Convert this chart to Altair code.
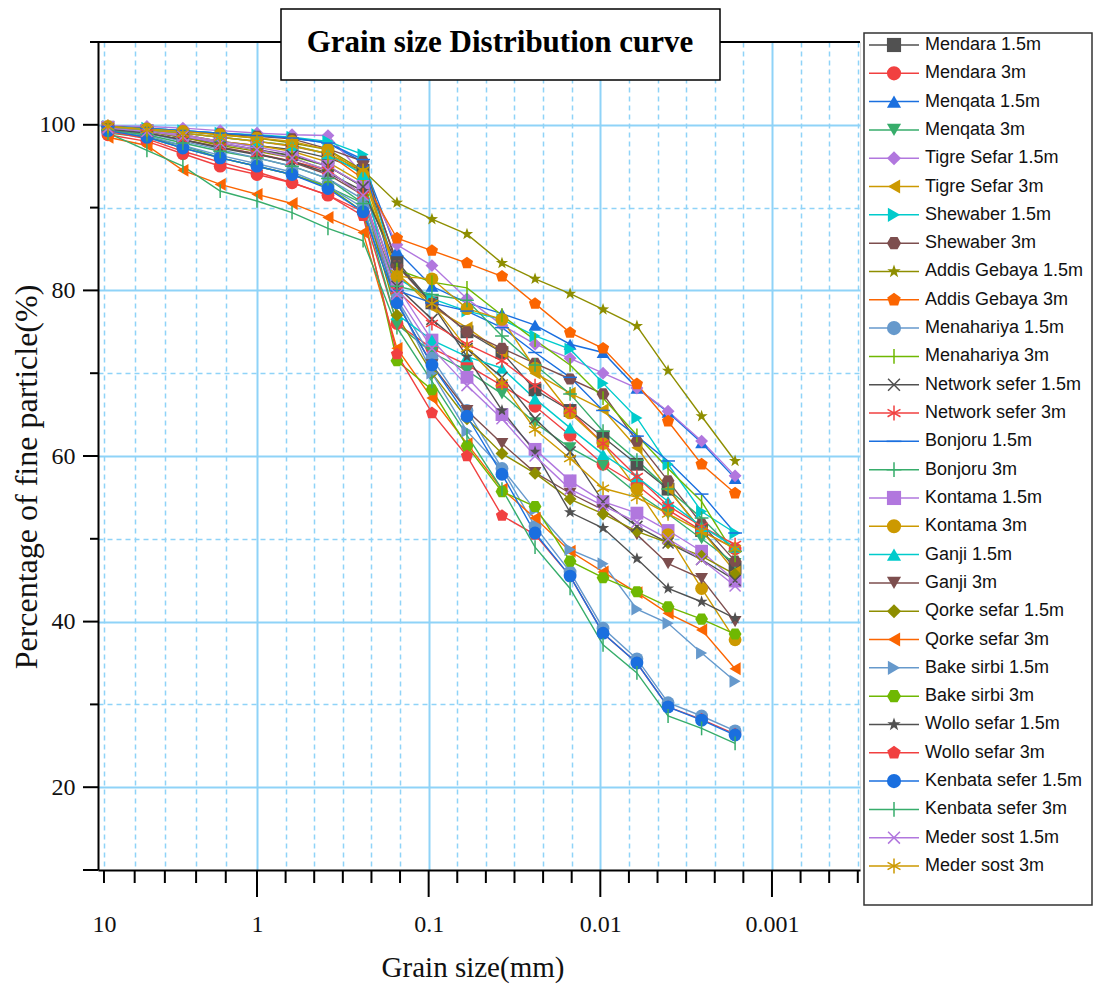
import altair as alt
import pandas as pd

# ---------------- data ----------------
sizes_mm = [9.42, 5.24, 3.05, 1.74, 1.0, 0.625, 0.386, 0.241, 0.153, 0.0957,
            0.0598, 0.0374, 0.024, 0.015, 0.00964, 0.00612, 0.00403, 0.00257, 0.00164]

series_names = [
    "Mendara 1.5m", "Mendara 3m", "Menqata 1.5m", "Menqata 3m",
    "Tigre Sefar 1.5m", "Tigre Sefar 3m", "Shewaber 1.5m", "Shewaber 3m",
    "Addis Gebaya 1.5m", "Addis Gebaya 3m", "Menahariya  1.5m", "Menahariya 3m",
    "Network sefer 1.5m", "Network sefer 3m", "Bonjoru 1.5m", "Bonjoru  3m",
    "Kontama 1.5m", "Kontama 3m", "Ganji 1.5m", "Ganji 3m",
    "Qorke sefar  1.5m", "Qorke sefar 3m", "Bake sirbi 1.5m", "Bake sirbi 3m",
    "Wollo sefar 1.5m", "Wollo sefar 3m", "Kenbata sefer 1.5m", "Kenbata sefer 3m",
    "Meder sost 1.5m", "Meder sost 3m",
]

mendara_15 = [99.7, 99.3, 98.8, 98.0, 97.5, 97.0, 96.0, 94.5, 83.5, 78.5, 75.0, 72.5, 68.0, 65.5, 62.3, 59.0, 56.0, 51.0, 46.5]
mendara_3 = [98.8, 98.0, 96.5, 95.0, 94.0, 93.0, 91.5, 89.5, 76.0, 73.0, 71.0, 68.5, 66.0, 62.5, 59.0, 56.5, 53.5, 51.0, 48.8]
menqata_15 = [99.8, 99.6, 99.3, 99.0, 98.7, 98.4, 97.8, 95.5, 84.8, 80.5, 78.5, 77.2, 75.8, 73.5, 72.5, 68.2, 65.3, 61.6, 57.3]
menqata_3 = [99.0, 98.5, 97.5, 96.0, 95.0, 94.0, 92.5, 90.5, 75.9, 72.5, 70.3, 67.5, 64.0, 61.0, 58.8, 55.5, 53.0, 50.0, 47.0]
tigre_15 = [99.9, 99.8, 99.6, 99.3, 99.0, 98.8, 98.7, 94.0, 85.5, 83.0, 79.0, 75.8, 73.5, 71.8, 70.0, 68.2, 65.4, 61.8, 57.6]
tigre_3 = [99.7, 99.3, 98.8, 98.0, 97.5, 96.8, 95.5, 93.0, 82.0, 78.0, 75.5, 72.5, 70.0, 67.6, 65.6, 61.0, 56.0, 51.0, 46.0]
shewaber_15 = [99.8, 99.6, 99.3, 99.0, 98.8, 98.5, 98.0, 96.4, 81.5, 79.0, 77.5, 76.5, 74.5, 72.9, 68.8, 64.6, 59.0, 53.3, 50.7]
shewaber_3 = [99.8, 99.5, 99.2, 98.9, 98.6, 98.3, 97.1, 95.6, 83.0, 78.4, 75.0, 73.0, 71.2, 69.3, 67.5, 61.8, 57.0, 51.8, 47.3]
addis_15 = [99.8, 99.5, 99.2, 98.8, 98.4, 97.8, 97.0, 94.5, 90.6, 88.6, 86.8, 83.3, 81.4, 79.6, 77.7, 75.7, 70.3, 64.8, 59.4]
addis_3 = [99.7, 99.4, 99.0, 98.5, 98.0, 97.4, 96.5, 93.5, 86.3, 84.8, 83.3, 81.7, 78.4, 74.9, 73.0, 68.7, 64.2, 59.0, 55.5]
menahariya_15 = [99.4, 98.7, 97.5, 96.3, 95.3, 94.3, 92.6, 90.0, 79.0, 71.8, 65.5, 58.5, 51.5, 46.0, 39.2, 35.5, 30.2, 28.6, 26.8]
menahariya_3 = [99.6, 99.2, 98.5, 97.7, 97.0, 96.2, 95.0, 92.5, 82.5, 81.0, 80.3, 77.0, 74.0, 71.0, 67.0, 62.5, 58.5, 54.5, 48.0]
network_15 = [99.6, 99.2, 98.5, 97.8, 97.0, 96.3, 95.0, 92.5, 80.5, 76.5, 73.0, 69.5, 64.5, 60.5, 54.5, 51.5, 49.5, 47.5, 45.0]
network_3 = [99.5, 99.0, 98.2, 97.3, 96.5, 95.6, 94.5, 91.5, 80.0, 76.0, 73.5, 71.5, 68.5, 65.5, 61.5, 57.5, 54.0, 51.5, 49.3]
bonjoru_15 = [99.8, 99.6, 99.3, 99.0, 98.7, 98.4, 97.8, 95.8, 80.0, 78.5, 77.5, 75.5, 72.5, 69.5, 65.5, 62.4, 59.4, 55.4, 50.7]
bonjoru_3 = [99.4, 98.8, 97.8, 96.8, 96.0, 95.0, 93.5, 90.5, 80.5, 79.5, 78.8, 74.5, 71.0, 67.5, 63.0, 59.5, 56.0, 52.5, 48.5]
kontama_15 = [99.7, 99.3, 98.8, 98.0, 97.3, 96.5, 95.0, 92.6, 80.5, 74.0, 69.5, 65.0, 60.8, 57.0, 54.5, 53.1, 51.0, 48.5, 44.9]
kontama_3 = [99.8, 99.5, 99.2, 98.8, 98.4, 98.0, 97.0, 94.0, 81.7, 81.4, 77.8, 76.5, 70.6, 65.2, 61.5, 56.0, 50.5, 44.0, 37.8]
ganji_15 = [99.7, 99.4, 99.0, 98.5, 98.0, 97.5, 96.5, 94.0, 77.1, 74.0, 72.0, 70.6, 66.9, 63.4, 60.2, 57.5, 54.5, 51.5, 49.0]
ganji_3 = [99.5, 99.0, 98.2, 97.3, 96.5, 95.5, 94.0, 91.5, 78.5, 71.0, 65.5, 61.5, 58.0, 55.5, 53.5, 50.5, 47.0, 45.2, 40.0]
qorke_15 = [99.6, 99.2, 98.5, 97.5, 96.8, 96.0, 94.5, 91.5, 77.0, 70.0, 64.5, 60.3, 57.9, 54.8, 53.0, 50.9, 49.5, 47.9, 45.7]
qorke_3 = [98.5, 97.5, 94.5, 92.8, 91.6, 90.5, 88.8, 87.0, 73.0, 67.0, 61.5, 56.0, 52.5, 48.5, 46.0, 43.5, 41.0, 39.0, 34.3]
bake_15 = [99.5, 99.0, 98.0, 97.0, 96.0, 95.0, 93.5, 91.0, 79.0, 70.0, 63.0, 58.5, 53.5, 48.7, 47.0, 41.5, 39.8, 36.2, 32.8]
bake_3 = [99.3, 98.5, 97.2, 96.0, 95.0, 94.0, 92.5, 89.5, 71.5, 68.0, 61.2, 55.7, 53.9, 47.3, 45.3, 43.6, 41.8, 40.3, 38.5]
wollo_15 = [99.5, 99.0, 98.2, 97.2, 96.4, 95.6, 94.2, 92.0, 83.2, 78.4, 72.0, 65.5, 60.5, 53.2, 51.3, 47.6, 44.0, 42.4, 40.4]
wollo_3 = [99.2, 98.3, 96.8, 95.5, 94.3, 93.0, 91.5, 89.0, 72.3, 65.2, 60.0, 52.8, 50.5, 45.5, 38.6, 35.0, 29.7, 28.2, 26.4]
kenbata_15 = [99.3, 98.5, 97.2, 96.0, 95.0, 94.0, 92.3, 89.5, 78.5, 71.0, 64.8, 57.8, 50.7, 45.5, 38.6, 35.0, 29.7, 28.1, 26.3]
kenbata_3 = [99.0, 96.9, 95.0, 92.0, 90.8, 89.4, 87.5, 86.0, 75.5, 69.0, 62.5, 56.0, 49.0, 44.0, 37.2, 33.8, 28.6, 27.1, 25.3]
meder_15 = [99.6, 99.2, 98.6, 97.8, 97.0, 96.0, 94.5, 91.5, 79.5, 73.0, 68.5, 64.5, 60.0, 56.0, 54.0, 52.0, 50.0, 47.5, 44.3]
meder_3 = [99.8, 99.4, 99.0, 98.5, 98.0, 97.5, 96.5, 94.5, 82.0, 78.4, 73.0, 68.8, 63.2, 59.7, 56.1, 55.0, 53.0, 50.9, 48.8]

series_values = [
    mendara_15, mendara_3, menqata_15, menqata_3, tigre_15, tigre_3,
    shewaber_15, shewaber_3, addis_15, addis_3, menahariya_15, menahariya_3,
    network_15, network_3, bonjoru_15, bonjoru_3, kontama_15, kontama_3,
    ganji_15, ganji_3, qorke_15, qorke_3, bake_15, bake_3,
    wollo_15, wollo_3, kenbata_15, kenbata_3, meder_15, meder_3,
]

# axis tick values
x_labelled = [10, 1, 0.1, 0.01, 0.001]
x_major_ticks = [1, 0.1, 0.01, 0.001]
x_minor_ticks = [10, 6.3, 4.0, 2.5, 1.6,
                 0.6813, 0.4642, 0.3162, 0.2154, 0.1468,
                 0.06813, 0.04642, 0.03162, 0.02154, 0.01468,
                 0.006813, 0.004642, 0.003162, 0.002154, 0.001468,
                 0.0006813, 0.0004642, 0.0003162]
y_major_ticks = [10, 20, 40, 60, 80, 100]
y_minor_ticks = [30, 50, 70, 90, 110]

title_text = "Grain size Distribution curve"
x_title = "Grain size(mm)"
y_title = "Percentage of fine particle(%)"

# ---------------- styles ----------------
palette = ["#515151", "#F14040", "#1A6FDF", "#37AD6B", "#B177DE", "#CC9900",
           "#00CBCC", "#7D4E4E", "#8E8E00", "#FB6501", "#6699CC", "#6FB802"]

STAR = "M0,-1L0.235,-0.324L0.951,-0.309L0.38,0.124L0.588,0.809L0,0.4L-0.588,0.809L-0.38,0.124L-0.951,-0.309L-0.235,-0.324Z"
HEX = "M1,0L0.5,0.866L-0.5,0.866L-1,0L-0.5,-0.866L0.5,-0.866Z"
PENT = "M0,-1L0.951,-0.309L0.588,0.809L-0.588,0.809L-0.951,-0.309Z"
VBAR = "M0,-1L0,1"
XMARK = "M-0.8,-0.8L0.8,0.8M-0.8,0.8L0.8,-0.8"
AST = "M0,-1L0,1M-0.87,-0.5L0.87,0.5M-0.87,0.5L0.87,-0.5"
HBAR = "M-1,0L1,0"
PLUS = "M-1,0L1,0M0,-1L0,1"
shape_cycle = ["square", "circle", "triangle-up", "triangle-down", "diamond",
               "triangle-left", "triangle-right", HEX, STAR, PENT, "circle",
               VBAR, XMARK, AST, HBAR, PLUS]
stroked = {VBAR, XMARK, AST, HBAR, PLUS}

colors = [palette[i % len(palette)] for i in range(len(series_names))]
shapes = [shape_cycle[i % len(shape_cycle)] for i in range(len(series_names))]
filled_flags = [s not in stroked for s in shapes]

rows = []
for name, vals, fl in zip(series_names, series_values, filled_flags):
    for s, v in zip(sizes_mm, vals):
        rows.append({"series": name, "size": s, "pct": v, "filled": fl})
df = pd.DataFrame(rows)
legend_df = pd.DataFrame({"series": series_names, "filled": filled_flags})

W, H = 762, 828
GRID = "#8FD3F8"
SERIF = "Liberation Serif"
SANS = "Liberation Sans"
INK = "#111111"

x_scale = alt.Scale(type="log", domain=[10.94, 1, 0.000307], range=[0, 159, W], nice=False)
y_scale = alt.Scale(domain=[10, 110], nice=False, zero=False)

xmaj = "indexof([1, 0.1, 0.01, 0.001], datum.value) >= 0"
x_axis = alt.Axis(
    values=x_labelled + x_minor_ticks[1:],
    labelExpr="indexof([10, 1, 0.1, 0.01, 0.001], datum.value) >= 0 ? format(datum.value, '~g') : ''",
    ticks=False, tickSize=0,
    domainColor="black", domainWidth=2,
    grid=True, gridColor=GRID,
    gridDash={"condition": {"test": xmaj, "value": []}, "value": [5, 4]},
    gridWidth={"condition": {"test": xmaj, "value": 2}, "value": 1.5},
    labelFont=SERIF, labelFontSize=24, labelColor=INK, labelPadding=54,
    labelOverlap=False, labelFlush=False, labelBaseline="middle",
    title=None,
)
ymaj = "(datum.value % 20 === 0 && datum.value >= 20 && datum.value <= 100)"
y_axis = alt.Axis(
    values=[10, 20, 30, 40, 50, 60, 70, 80, 90, 100, 110],
    labelExpr=f"{ymaj} ? datum.label : ''",
    ticks=False, tickSize=0,
    domainColor="black", domainWidth=2,
    grid=True, gridColor=GRID,
    gridDash={"condition": {"test": ymaj, "value": []}, "value": [5, 4]},
    gridWidth={"condition": {"test": ymaj, "value": 2}, "value": 1.5},
    gridOpacity={"condition": {"test": "datum.value === 10 || datum.value === 110", "value": 0}, "value": 1},
    labelFont=SERIF, labelFontSize=24, labelColor=INK, labelPadding=23,
    title=None,
)

color_scale = alt.Scale(domain=series_names, range=colors)
shape_scale = alt.Scale(domain=series_names, range=shapes)

x_enc = alt.X("size:Q", scale=x_scale, axis=x_axis)
y_enc = alt.Y("pct:Q", scale=y_scale, axis=y_axis)
c_enc = alt.Color("series:N", scale=color_scale, legend=None)
s_enc = alt.Shape("series:N", scale=shape_scale, legend=None)

base = alt.Chart(df)
lines = base.mark_line(strokeWidth=1.4).encode(x=x_enc, y=y_enc, color=c_enc, detail="series:N")
pts_f = base.transform_filter("datum.filled").mark_point(
    filled=True, opacity=1, size=165).encode(x=x_enc, y=y_enc, color=c_enc, shape=s_enc)
pts_s = base.transform_filter("!datum.filled").mark_point(
    filled=False, opacity=1, size=190, strokeWidth=1.5).encode(x=x_enc, y=y_enc, color=c_enc, shape=s_enc)

# axis ticks drawn through the scales
xt_major = alt.Chart(pd.DataFrame({"v": x_major_ticks})).mark_rule(color="black", strokeWidth=2).encode(
    x=alt.X("v:Q", scale=x_scale, axis=x_axis), y=alt.value(H), y2=alt.value(H + 27))
xt_minor = alt.Chart(pd.DataFrame({"v": x_minor_ticks})).mark_rule(color="black", strokeWidth=2).encode(
    x=alt.X("v:Q", scale=x_scale, axis=x_axis), y=alt.value(H), y2=alt.value(H + 13))
yt_major = alt.Chart(pd.DataFrame({"v": y_major_ticks})).mark_rule(color="black", strokeWidth=2).encode(
    y=alt.Y("v:Q", scale=y_scale, axis=y_axis), x=alt.value(-15), x2=alt.value(0))
yt_minor = alt.Chart(pd.DataFrame({"v": y_minor_ticks})).mark_rule(color="black", strokeWidth=2).encode(
    y=alt.Y("v:Q", scale=y_scale, axis=y_axis), x=alt.value(-8), x2=alt.value(0))

inner = alt.layer(lines, pts_f, pts_s, xt_major, xt_minor, yt_major, yt_minor)

one = pd.DataFrame({"a": [0]})
top_line = alt.Chart(one).mark_rule(color="black", strokeWidth=2).encode(
    x=alt.value(0), x2=alt.value(W), y=alt.value(0))
title_box = alt.Chart(one).mark_rect(fill="white", stroke="black", strokeWidth=1.5).encode(
    x=alt.value(183), x2=alt.value(622), y=alt.value(-33), y2=alt.value(38))
title_mark = alt.Chart(pd.DataFrame({"t": [title_text]})).mark_text(
    font=SERIF, fontSize=31, fontWeight="bold", color="black", align="center", baseline="middle"
).encode(x=alt.value(402), y=alt.value(1), text="t:N")
xtitle_mark = alt.Chart(pd.DataFrame({"t": [x_title]})).mark_text(
    font=SERIF, fontSize=29, color=INK, align="center", baseline="middle"
).encode(x=alt.value(375), y=alt.value(H + 98), text="t:N")
ytitle_mark = alt.Chart(pd.DataFrame({"t": [y_title]})).mark_text(
    font=SERIF, fontSize=32, color=INK, align="center", baseline="middle", angle=270
).encode(x=alt.value(-71), y=alt.value(435), text="t:N")

# custom legend
leg_y = alt.Y("series:N", scale=alt.Scale(type="point", domain=series_names, range=[3, 824], padding=0), axis=None)
leg_base = alt.Chart(legend_df)
leg_box = alt.Chart(one).mark_rect(fill="white", stroke="#333333", strokeWidth=1.5).encode(
    x=alt.value(766), x2=alt.value(994), y=alt.value(-9), y2=alt.value(863))
leg_lines = leg_base.mark_rule(strokeWidth=1.5).encode(
    x=alt.value(771), x2=alt.value(821), y=leg_y, color=c_enc)
leg_pf = leg_base.transform_filter("datum.filled").mark_point(
    filled=True, opacity=1, size=200).encode(x=alt.value(796), y=leg_y, color=c_enc, shape=s_enc)
leg_ps = leg_base.transform_filter("!datum.filled").mark_point(
    filled=False, opacity=1, size=220, strokeWidth=1.5).encode(x=alt.value(796), y=leg_y, color=c_enc, shape=s_enc)
leg_text = leg_base.mark_text(align="left", baseline="middle", font=SANS, fontSize=18, color=INK).encode(
    x=alt.value(827), y=leg_y, text="series:N")

chart = alt.layer(
    inner, top_line, title_box, title_mark, xtitle_mark, ytitle_mark,
    leg_box, leg_lines, leg_pf, leg_ps, leg_text,
).resolve_scale(y="independent").properties(
    width=W, height=H,
    autosize=alt.AutoSizeParams(type="none"),
    padding={"left": 98, "top": 42, "right": 236, "bottom": 116},
).configure_view(stroke=None).configure(background="white")

chart.save("out.html", embed_options={"renderer": "svg", "actions": False})
